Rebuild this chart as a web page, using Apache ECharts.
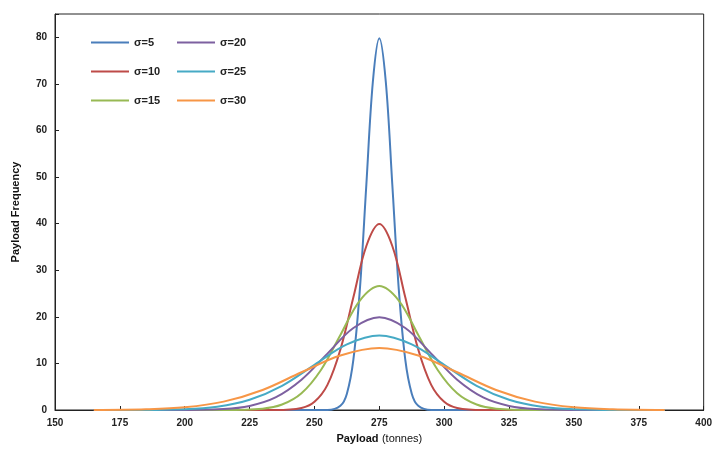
<!DOCTYPE html>
<html><head><meta charset="utf-8">
<script src="https://cdn.jsdelivr.net/npm/echarts@6/dist/echarts.min.js"></script>
<style>html,body{margin:0;padding:0;background:#fff}#c{width:715px;height:452px}</style>
</head><body><div id="c"></div>
<script>
// payload (tonnes) sample points and frequency
var x5  = [165, 255, 260, 262.5, 265, 267.5, 270, 272.5, 275, 277.5, 280, 282.5, 285, 287.5, 290, 295, 385];
var y5  = [0, 0, 0.9, 3.5, 10.8, 25.9, 48.4, 70.4, 79.8, 70.4, 48.4, 25.9, 10.8, 3.5, 0.9, 0, 0];
var x10 = [165, 235, 245, 250, 255, 260, 265, 270, 275, 280, 285, 290, 295, 300, 305, 315, 385];
var y10 = [0, 0, 0.44, 1.75, 5.4, 13.0, 24.2, 35.2, 39.9, 35.2, 24.2, 13.0, 5.4, 1.75, 0.44, 0, 0];
var x15 = [165, 215, 230, 237.5, 245, 252.5, 260, 267.5, 275, 282.5, 290, 297.5, 305, 312.5, 320, 335, 385];
var y15 = [0, 0, 0.29, 1.17, 3.6, 8.6, 16.1, 23.5, 26.6, 23.5, 16.1, 8.6, 3.6, 1.17, 0.29, 0, 0];
var x20 = [165, 195, 215, 225, 235, 245, 255, 265, 275, 285, 295, 305, 315, 325, 335, 355, 385];
var y20 = [0, 0, 0.22, 0.88, 2.7, 6.5, 12.1, 17.6, 19.9, 17.6, 12.1, 6.5, 2.7, 0.88, 0.22, 0, 0];
var x25 = [165, 175, 200, 212.5, 225, 237.5, 250, 262.5, 275, 287.5, 300, 312.5, 325, 337.5, 350, 375, 385];
var y25 = [0, 0, 0.18, 0.7, 2.2, 5.2, 9.7, 14.1, 16.0, 14.1, 9.7, 5.2, 2.2, 0.7, 0.18, 0, 0];
var x30 = [165, 185, 200, 215, 230, 245, 260, 275, 290, 305, 320, 335, 350, 365, 385];
var y30 = [0, 0.15, 0.58, 1.8, 4.3, 8.1, 11.7, 13.3, 11.7, 8.1, 4.3, 1.8, 0.58, 0.15, 0];
var names = ['σ=5', 'σ=10', 'σ=15', 'σ=20', 'σ=25', 'σ=30'];
var colors = ['#4a7ebb', '#be4b48', '#98b954', '#7d60a0', '#46aac5', '#f79646'];

function pairs(xs, ys) { return xs.map(function (v, i) { return [v, ys[i]]; }); }
var xsAll = [x5, x10, x15, x20, x25, x30];
var ysAll = [y5, y10, y15, y20, y25, y30];

var chart = echarts.init(document.getElementById('c'));
var font = 'Liberation Sans';
var legendCommon = {
    orient: 'vertical', itemWidth: 38, itemHeight: 2, itemGap: 18, icon: 'rect',
    textStyle: { fontFamily: font, fontSize: 11, fontWeight: 'bold', color: '#222' }
};
var option = {
    animation: false,
    color: colors,
    legend: [
        Object.assign({ left: 86, top: 32, data: names.slice(0, 3) }, legendCommon),
        Object.assign({ left: 172, top: 32, data: names.slice(3) }, legendCommon)
    ],
    grid: { left: 55, right: 8, top: 14, bottom: 42, show: true, borderColor: '#222', borderWidth: 1 },
    xAxis: {
        type: 'value', min: 150, max: 400, interval: 25,
        name: '{b|Payload} {n|(tonnes)}', nameLocation: 'middle', nameGap: 22,
        nameTextStyle: { rich: {
            b: { fontFamily: font, fontSize: 11, fontWeight: 'bold', color: '#111' },
            n: { fontFamily: font, fontSize: 11, color: '#111' } } },
        axisLine: { lineStyle: { color: '#222' } },
        axisTick: { inside: true, length: 4, lineStyle: { color: '#222' } },
        axisLabel: { fontFamily: font, fontSize: 10, fontWeight: 'bold', color: '#222' },
        splitLine: { show: false }
    },
    yAxis: {
        type: 'value', min: 0, max: 85, interval: 10,
        name: 'Payload Frequency', nameLocation: 'middle', nameGap: 34,
        nameTextStyle: { fontFamily: font, fontSize: 11, fontWeight: 'bold', color: '#111' },
        axisLine: { show: true, lineStyle: { color: '#222' } },
        axisTick: { show: true, inside: true, length: 4, lineStyle: { color: '#222' } },
        axisLabel: { fontFamily: font, fontSize: 10, fontWeight: 'bold', color: '#222',
            formatter: function (v) { return v > 80 ? '' : v; } },
        splitLine: { show: false }
    },
    series: names.map(function (n, i) {
        return {
            name: n, type: 'line', smooth: 0.35, showSymbol: false,
            lineStyle: { width: 2 }, data: pairs(xsAll[i], ysAll[i])
        };
    })
};
chart.setOption(option);
</script>
</body></html>
